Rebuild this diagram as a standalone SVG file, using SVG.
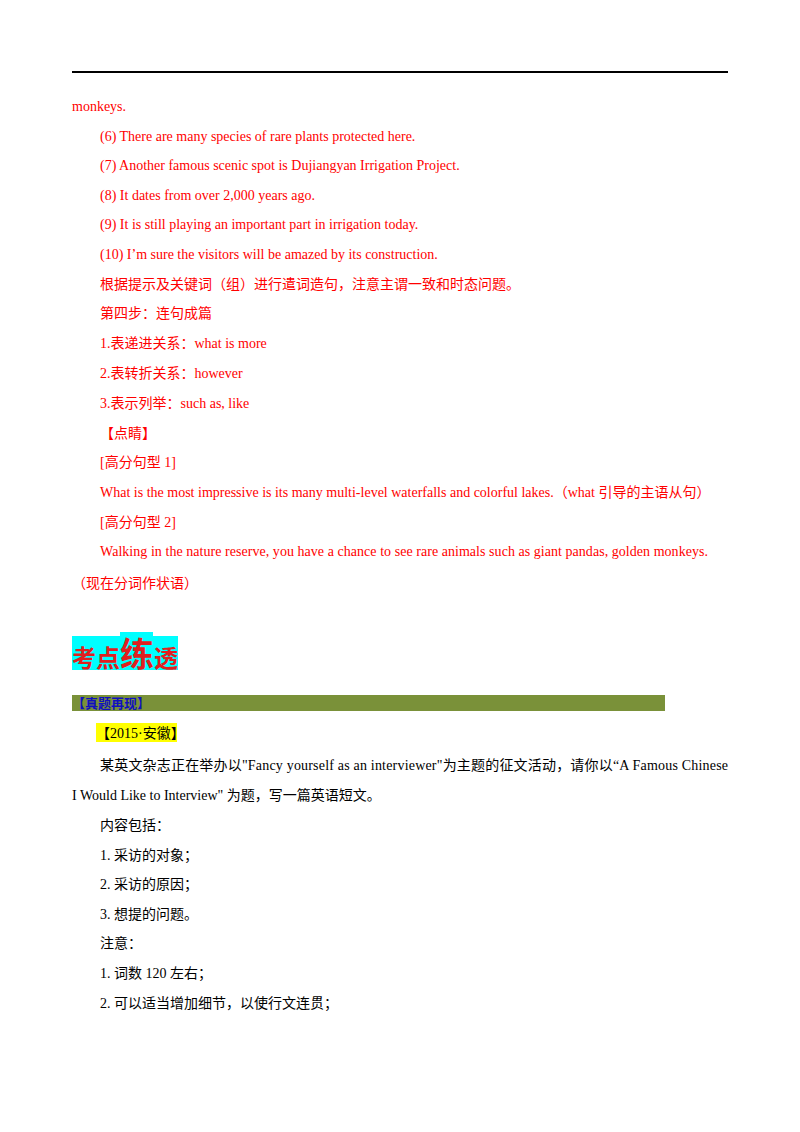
<svg xmlns="http://www.w3.org/2000/svg" width="800" height="1132" viewBox="0 0 800 1132">
<style>
text{font-family:"Liberation Serif","Noto Sans CJK SC",serif;font-size:14px}
.r{fill:#f00}
.k{fill:#000}
</style>
<rect width="800" height="1132" fill="#fff"/>
<line x1="72" y1="72" x2="728" y2="72" stroke="#000" stroke-width="2"/>
<g class="r">
<text class="r" x="72" y="111">monkeys.</text>
<text class="r" x="100" y="141">(6) There are many species of rare plants protected here.</text>
<text class="r" x="100" y="170">(7) Another famous scenic spot is Dujiangyan Irrigation Project.</text>
<text class="r" x="100" y="200">(8) It dates from over 2,000 years ago.</text>
<text class="r" x="100" y="229">(9) It is still playing an important part in irrigation today.</text>
<text class="r" x="100" y="259">(10) I’m sure the visitors will be amazed by its construction.</text>
<text class="r" x="100" y="289">根据提示及关键词（组）进行遣词造句，注意主谓一致和时态问题。</text>
<text class="r" x="100" y="318">第四步：连句成篇</text>
<text class="r" x="100" y="348">1.表递进关系：what is more</text>
<text class="r" x="100" y="378">2.表转折关系：however</text>
<text class="r" x="100" y="408">3.表示列举：such as, like</text>
<text class="r" x="100" y="438">【点睛】</text>
<text class="r" x="100" y="467">[高分句型 1]</text>
<text class="r" x="100" y="497">What is the most impressive is its many multi-level waterfalls and colorful lakes.（what 引导的主语从句）</text>
<text class="r" x="100" y="527">[高分句型 2]</text>
<text class="r" x="100" y="556" textLength="608">Walking in the nature reserve, you have a chance to see rare animals such as giant pandas, golden monkeys.</text>
<text class="r" x="72" y="588">（现在分词作状语）</text>
</g>
<rect x="72" y="636" width="106" height="34" fill="#00ffff"/>
<rect x="120" y="632" width="33" height="6" fill="#00ffff"/>
<text x="72" y="667" style="font-size:24px;font-weight:bold" fill="#e02020">考点<tspan style="font-size:34px">练</tspan>透</text>
<rect x="72" y="695" width="593" height="16" fill="#7a9139"/>
<text x="72" y="708" style="font-size:13px;font-weight:bold" fill="#1010c0">【真题再现】</text>
<rect x="96" y="723" width="81" height="19" fill="#ffff00"/>
<text class="k" x="96" y="738">【2015·安徽】</text>
<text class="k" x="100" y="770" textLength="628">某英文杂志正在举办以"Fancy yourself as an interviewer"为主题的征文活动，请你以“A Famous Chinese</text>
<text class="k" x="72" y="800">I Would Like to Interview"  为题，写一篇英语短文。</text>
<text class="k" x="100" y="830">内容包括：</text>
<text class="k" x="100" y="860">1.  采访的对象；</text>
<text class="k" x="100" y="889">2.  采访的原因；</text>
<text class="k" x="100" y="919">3.  想提的问题。</text>
<text class="k" x="100" y="948">注意：</text>
<text class="k" x="100" y="978">1.  词数 120 左右；</text>
<text class="k" x="100" y="1008">2.  可以适当增加细节，以使行文连贯；</text>
</svg>
